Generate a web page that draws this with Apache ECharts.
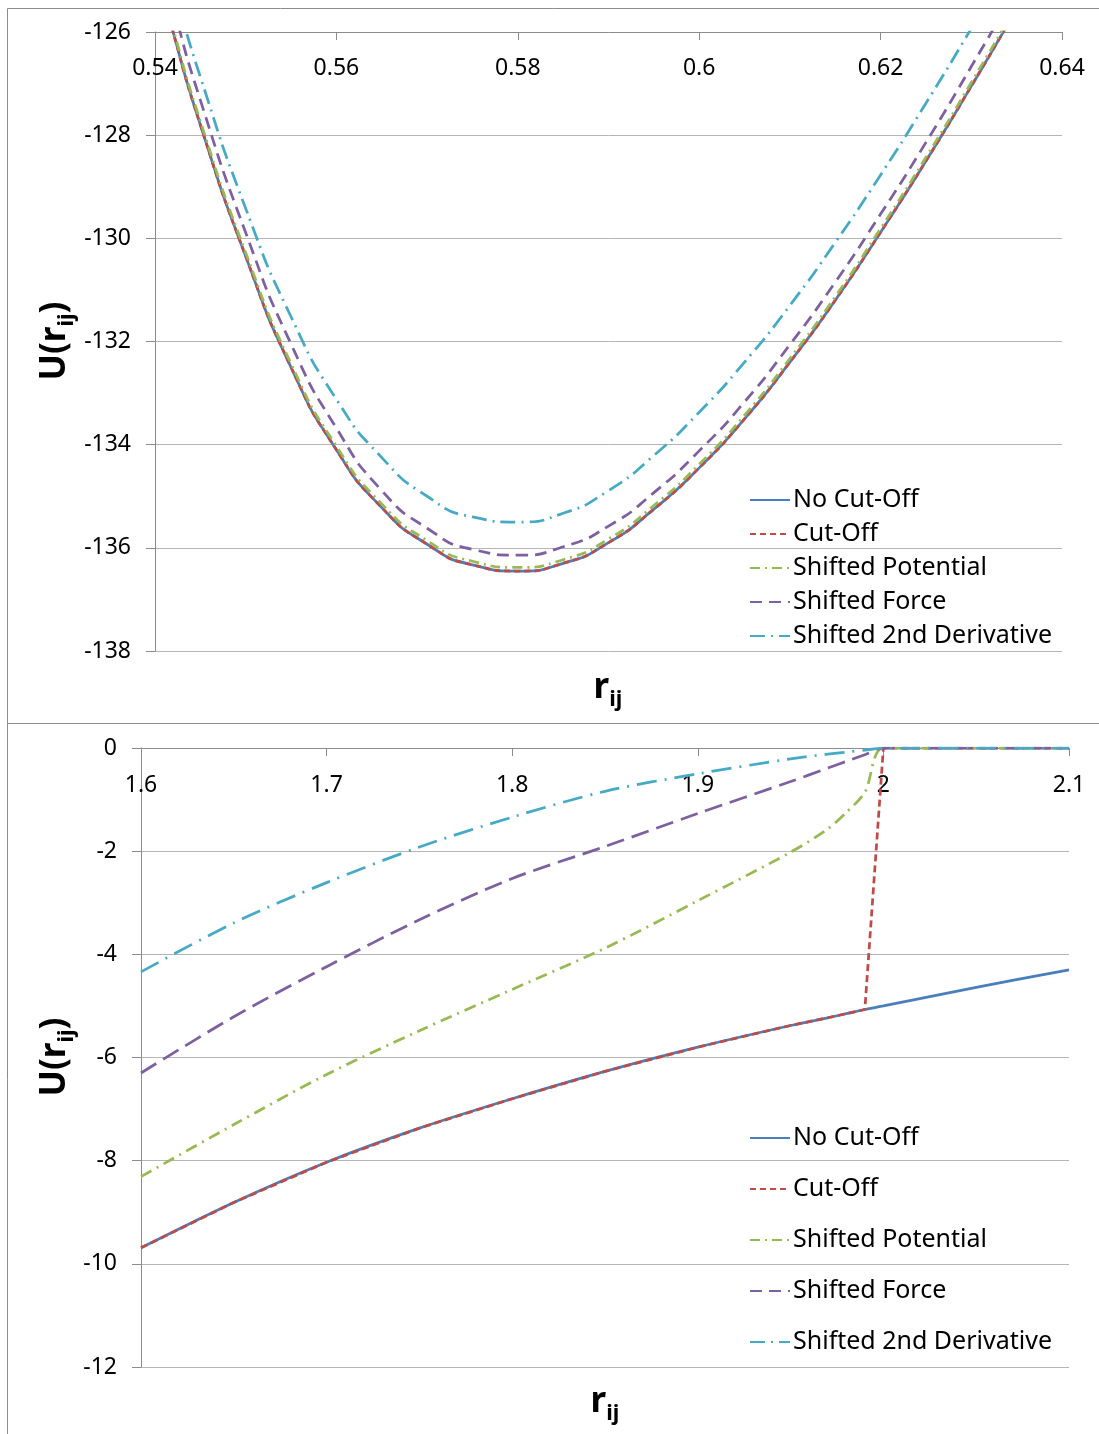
<!DOCTYPE html>
<html>
<head>
<meta charset="utf-8">
<script src="https://cdn.jsdelivr.net/npm/echarts@6/dist/echarts.min.js"></script>
<style>
html,body{margin:0;padding:0;background:#fff;}
#c{width:1099px;height:1434px;}
</style>
</head>
<body>
<div id="c"></div>
<script>
// ---- Data ----
const seriesNames = ['No Cut-Off','Cut-Off','Shifted Potential','Shifted Force','Shifted 2nd Derivative'];

// Top panel (near the minimum)
const xTop = [0.540,0.542,0.545,0.550,0.555,0.560,0.565,0.570,0.575,0.580,0.585,0.590,0.595,0.600,0.605,0.610,0.615,0.620,0.625,0.630,0.635,0.640];
const noCutTop = [-124.6,-126.0,-127.80,-130.35,-132.50,-134.10,-135.22,-135.93,-136.33,-136.45,-136.30,-135.90,-135.25,-134.45,-133.50,-132.40,-131.20,-129.88,-128.50,-127.05,-125.55,-124.0];
const cutTop = [-124.6,-126.0,-127.80,-130.35,-132.50,-134.10,-135.22,-135.93,-136.33,-136.45,-136.30,-135.90,-135.25,-134.45,-133.50,-132.40,-131.20,-129.88,-128.50,-127.05,-125.55,-124.0];
const shiftPotTop = [-124.53,-125.93,-127.73,-130.28,-132.43,-134.03,-135.15,-135.86,-136.26,-136.38,-136.23,-135.83,-135.18,-134.38,-133.43,-132.33,-131.13,-129.81,-128.43,-126.98,-125.48,-123.93];
const shiftForceTop = [-124.1,-125.5,-127.32,-129.89,-132.05,-133.68,-134.89,-135.62,-136.03,-136.14,-135.98,-135.58,-134.93,-134.12,-133.17,-132.06,-130.85,-129.53,-128.14,-126.67,-125.15,-123.58];
const shift2ndTop = [-123.88,-125.1,-126.87,-129.42,-131.52,-133.12,-134.25,-135.00,-135.40,-135.50,-135.33,-134.89,-134.21,-133.37,-132.40,-131.30,-130.08,-128.77,-127.38,-125.93,-124.43,-122.89];

// Bottom panel (near the cut-off)
const xBot = [1.60,1.65,1.70,1.75,1.80,1.85,1.90,1.95,1.97,1.98,1.99,2.00,2.05,2.10];
const noCutBot = [-9.69,-8.81,-8.03,-7.37,-6.80,-6.27,-5.80,-5.38,-5.23,-5.15,-5.07,-5.00,-4.64,-4.30];
const cutBot = [-9.69,-8.81,-8.03,-7.37,-6.80,-6.27,-5.80,-5.38,-5.23,-5.15,-5.07,0,0,0];
const shiftPotBot = [-8.31,-7.30,-6.33,-5.48,-4.68,-3.88,-2.96,-2.02,-1.57,-1.25,-0.86,0,0,0];
const shiftForceBot = [-6.30,-5.21,-4.24,-3.33,-2.53,-1.91,-1.27,-0.65,-0.39,-0.26,-0.13,0,0,0];
const shift2ndBot = [-4.34,-3.39,-2.61,-1.92,-1.34,-0.84,-0.50,-0.21,-0.12,-0.08,-0.04,0,0,0];

// Axis settings
const topX = {min:0.54, max:0.64, interval:0.02};
const topY = {min:-138, max:-126, interval:2};
const botX = {min:1.6, max:2.1, interval:0.1};
const botY = {min:-12, max:0, interval:2};

// ---- Styles ----
const colors = ['#4A7EBB','#BE4B48','#98B954','#7D60A0','#46AAC5'];
const dashesTop = ['solid',[6,4],[10,5,2,5],[12,7],[15,6,2,6]];
const dashesBot = ['solid',[7,4],[12,6,2,6],[18,8],[20,8,2,8]];
const smoothBot = [0.3, false, 0.3, 0.3, 0.3];
const FONT = '"Noto Sans", "Open Sans", sans-serif';

function pairs(xs, ys){ return xs.map((x,i)=>[x, ys[i]]); }

const topSets = [noCutTop, cutTop, shiftPotTop, shiftForceTop, shift2ndTop];
const botSets = [noCutBot, cutBot, shiftPotBot, shiftForceBot, shift2ndBot];

const series = [];
topSets.forEach((ys,i)=>{
  series.push({
    name: seriesNames[i], type:'line', xAxisIndex:0, yAxisIndex:0,
    data: pairs(xTop, ys), smooth: 0.6, symbol:'none', showSymbol:false, clip:true,
    lineStyle:{color:colors[i], width:2.75, type:dashesTop[i]},
    itemStyle:{color:colors[i]}, z: 2+i
  });
});
botSets.forEach((ys,i)=>{
  series.push({
    name: seriesNames[i], type:'line', xAxisIndex:1, yAxisIndex:1,
    data: pairs(xBot, ys), smooth: smoothBot[i], symbol:'none', showSymbol:false, clip:true,
    lineStyle:{color:colors[i], width:2.75, type:dashesBot[i]},
    itemStyle:{color:colors[i]}, z: 2+i
  });
});

function xAxisCfg(gridIndex, r, margin){
  return {
    type:'value', gridIndex, position:'top', min:r.min, max:r.max, interval:r.interval,
    axisLine:{onZero:false, lineStyle:{color:'#8c8c8c', width:1}},
    axisTick:{show:true, inside:true, length:8, lineStyle:{color:'#8c8c8c'}},
    axisLabel:{inside:true, margin, color:'#000', fontSize:23, fontFamily:FONT},
    splitLine:{show:false}
  };
}
function yAxisCfg(gridIndex, r, margin){
  return {
    type:'value', gridIndex, min:r.min, max:r.max, interval:r.interval,
    axisLine:{show:true, onZero:false, lineStyle:{color:'#8c8c8c', width:1}},
    axisTick:{show:true, length:9, lineStyle:{color:'#8c8c8c'}},
    axisLabel:{margin, color:'#000', fontSize:23, fontFamily:FONT},
    splitLine:{show:true, lineStyle:{color:'#b5b5b5', width:1}}
  };
}

const richAxis = {
  a:{fontSize:35, fontWeight:'bold', fontFamily:FONT, fill:'#000', lineHeight:46, verticalAlign:'middle'},
  b:{fontSize:22, fontWeight:'bold', fontFamily:FONT, fill:'#000', lineHeight:46, verticalAlign:'bottom'}
};

function legendCfg(top, gap){
  return {
    orient:'vertical', left:749, top, padding:0, itemWidth:40, itemHeight:14, itemGap:gap,
    selectedMode:false, data: seriesNames,
    itemStyle:{color:'rgba(0,0,0,0)', borderWidth:0, opacity:0},
    textStyle:{fontSize:25, fontFamily:FONT, color:'#000', lineHeight:26, padding:[0,0,0,-2]}
  };
}

const option = {
  animation:false,
  backgroundColor:'#fff',
  grid:[
    {left:155, top:32, width:907, height:619},
    {left:141, top:748, width:928, height:619}
  ],
  xAxis:[xAxisCfg(0, topX, 25), xAxisCfg(1, botX, 26)],
  yAxis:[yAxisCfg(0, topY, 24), yAxisCfg(1, botY, 24)],
  legend:[legendCfg(487, 8), legendCfg(1125, 25)],
  series,
  graphic:[
    {type:'rect', silent:true, z:-10, shape:{x:7.5, y:8.5, width:1200, height:715}, style:{fill:'none', stroke:'#8c8c8c', lineWidth:1}},
    {type:'rect', silent:true, z:-10, shape:{x:7.5, y:723.5, width:1200, height:800}, style:{fill:'none', stroke:'#8c8c8c', lineWidth:1}},
    {type:'text', silent:true, x:55, y:341, rotation:Math.PI/2, style:{text:'{a|U(r}{b|ij}{a|)}', rich:richAxis, align:'center', verticalAlign:'middle'}},
    {type:'text', silent:true, x:55, y:1057, rotation:Math.PI/2, style:{text:'{a|U(r}{b|ij}{a|)}', rich:richAxis, align:'center', verticalAlign:'middle'}},
    {type:'text', silent:true, x:608, y:688, style:{text:'{a|r}{b|ij}', rich:richAxis, align:'center', verticalAlign:'middle'}},
    {type:'text', silent:true, x:605, y:1402, style:{text:'{a|r}{b|ij}', rich:richAxis, align:'center', verticalAlign:'middle'}}
  ]
};

const chart = echarts.init(document.getElementById('c'), null, {renderer:'canvas'});
chart.setOption(option);
</script>
</body>
</html>
